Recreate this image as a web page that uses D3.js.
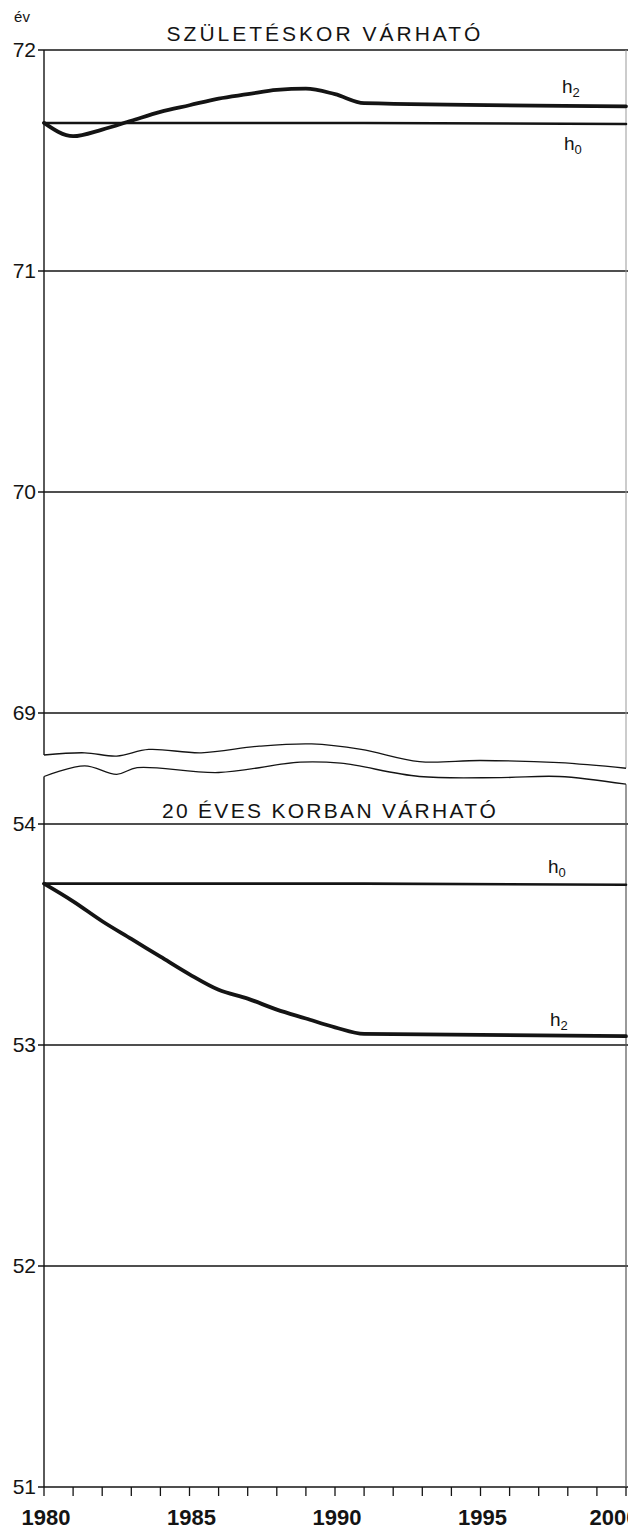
<!DOCTYPE html>
<html><head><meta charset="utf-8">
<script src="https://cdn.jsdelivr.net/npm/d3@7"></script>
<style>
html,body{margin:0;padding:0;background:#fff;}
svg text{font-family:"Liberation Sans",Arial,Helvetica,sans-serif;fill:#141414;}
</style></head>
<body>
<svg id="chart" width="628" height="1532"></svg>
<script>
// ---- data ----
const years = [1980,1981,1982,1983,1984,1985,1986,1987,1988,1989,1990,1991,2000];
const birthH0 = [71.67,71.67,71.67,71.67,71.67,71.67,71.67,71.67,71.67,71.67,71.67,71.67,71.665];
const birthH2 = [71.67,71.61,71.64,71.68,71.72,71.75,71.78,71.80,71.82,71.825,71.80,71.76,71.745];
const age20H0 = [53.73,53.73,53.73,53.73,53.73,53.73,53.73,53.73,53.73,53.73,53.73,53.73,53.725];
const age20H2 = [53.73,53.65,53.56,53.48,53.40,53.32,53.25,53.21,53.16,53.12,53.08,53.05,53.04];
const topTicks = [72,71,70,69];
const bottomTicks = [54,53,52,51];
const xTickYears = d3.range(1980,2001,1);
const xLabelYears = [1980,1985,1990,1995,2000];
// axis break (wavy lines), in each panel's units
const breakTopYears = [1980,1981.4,1982.5,1983.6,1985.4,1987.4,1989.2,1990.9,1992.9,1995,1997.7,2000];
const breakTopVals  = [68.81,68.82,68.805,68.835,68.82,68.85,68.86,68.835,68.78,68.785,68.775,68.75];
const breakBotYears = [1980,1981.4,1982.5,1983.2,1986,1988.8,1990.2,1992.9,1995.7,1997.7,2000];
const breakBotVals  = [54.215,54.263,54.225,54.255,54.233,54.28,54.275,54.215,54.21,54.215,54.18];
const titleTop = "SZÜLETÉSKOR VÁRHATÓ";
const titleBottom = "20 ÉVES KORBAN VÁRHATÓ";
const unitLabel = "év";

// ---- scales ----
const svg = d3.select("#chart");
const x = d3.scaleLinear().domain([1980,2000]).range([44,626]);
const yTop = d3.scaleLinear().domain([69,72]).range([713,50]);
const yBot = d3.scaleLinear().domain([51,54]).range([1487,824]);
const ink = "#141414";

// gridlines
function grid(scale, ticks){
  svg.append("g").selectAll("line").data(ticks).join("line")
    .attr("x1", x(1980)-6).attr("x2", x(2000)+2)
    .attr("y1", d=>scale(d)).attr("y2", d=>scale(d))
    .attr("stroke", ink).attr("stroke-width", 1.4);
  svg.append("g").selectAll("text").data(ticks).join("text")
    .attr("x", x(1980)-8).attr("y", d=>scale(d)+7)
    .attr("text-anchor","end").attr("font-size",21)
    .text(d=>d);
}
grid(yTop, topTicks);
grid(yBot, bottomTicks);

// left axis line (broken)
svg.append("line").attr("x1",x(1980)).attr("x2",x(1980))
  .attr("y1",yTop(72)).attr("y2",yTop(breakTopVals[0]))
  .attr("stroke",ink).attr("stroke-width",1.4);
svg.append("line").attr("x1",x(1980)).attr("x2",x(1980))
  .attr("y1",yBot(breakBotVals[0])).attr("y2",yBot(51))
  .attr("stroke",ink).attr("stroke-width",1.4);
// right frame edge
svg.append("line").attr("x1",x(2000)).attr("x2",x(2000))
  .attr("y1",yTop(72)).attr("y2",yTop(breakTopVals[breakTopVals.length-1]))
  .attr("stroke","#999").attr("stroke-width",1);
svg.append("line").attr("x1",x(2000)).attr("x2",x(2000))
  .attr("y1",yBot(breakBotVals[breakBotVals.length-1])).attr("y2",yBot(51))
  .attr("stroke","#555").attr("stroke-width",1.2);

// wavy break lines
const wave = (scale)=>d3.line().x(d=>x(d[0])).y(d=>scale(d[1])).curve(d3.curveCatmullRom);
svg.append("path").datum(d3.zip(breakTopYears,breakTopVals))
  .attr("d",wave(yTop)).attr("fill","none").attr("stroke",ink).attr("stroke-width",1.3);
svg.append("path").datum(d3.zip(breakBotYears,breakBotVals))
  .attr("d",wave(yBot)).attr("fill","none").attr("stroke",ink).attr("stroke-width",1.3);

// x axis ticks
const xAxisY = yBot(51);
svg.append("g").selectAll("line").data(xTickYears).join("line")
  .attr("x1",d=>x(d)).attr("x2",d=>x(d))
  .attr("y1",xAxisY).attr("y2",xAxisY+9)
  .attr("stroke",ink).attr("stroke-width",1.3);
svg.append("g").selectAll("text").data(xLabelYears).join("text")
  .attr("x",d=>Math.min(x(d)+2, 614)).attr("y",xAxisY+38)
  .attr("text-anchor","middle").attr("font-size",22).attr("font-weight","bold")
  .text(d=>d);

// series lines
const line = (scale)=>d3.line().x((d,i)=>x(years[i])).y(d=>scale(d)).curve(d3.curveMonotoneX);
function series(vals, scale, w){
  svg.append("path").datum(vals).attr("d",line(scale))
    .attr("fill","none").attr("stroke",ink).attr("stroke-width",w)
    .attr("stroke-linejoin","round").attr("stroke-linecap","round");
}
series(birthH0, yTop, 2.6);
series(birthH2, yTop, 3.8);
series(age20H0, yBot, 2.6);
series(age20H2, yBot, 3.8);

// series labels
function hLabel(xp, yp, sub){
  const t = svg.append("text").attr("x",xp).attr("y",yp).attr("font-size",19);
  t.append("tspan").text("h");
  t.append("tspan").attr("font-size",13).attr("dy",4).text(sub);
}
hLabel(562, 93, "2");
hLabel(564, 150, "0");
hLabel(548, 873, "0");
hLabel(550, 1026, "2");

// titles
svg.append("text").attr("x",325).attr("y",41).attr("text-anchor","middle")
  .attr("font-size",21).attr("letter-spacing",3).text(titleTop);
svg.append("text").attr("x",330).attr("y",818).attr("text-anchor","middle")
  .attr("font-size",21).attr("letter-spacing",2.3).text(titleBottom);
svg.append("text").attr("x",22).attr("y",22).attr("text-anchor","middle")
  .attr("font-size",15).text(unitLabel);
</script>
</body></html>
